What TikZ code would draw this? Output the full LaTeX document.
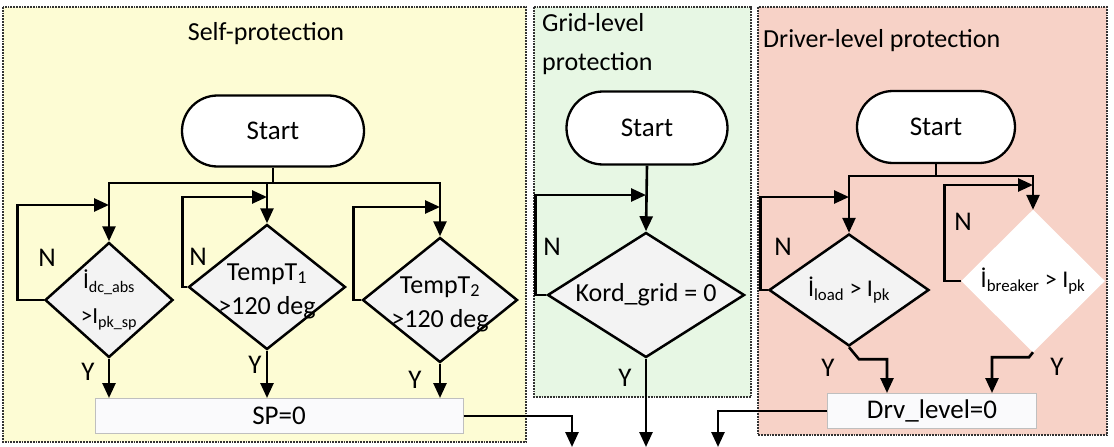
\documentclass[tikz,border=0pt]{standalone}
\usepackage{fontspec}
\setmainfont{Carlito}
\usetikzlibrary{arrows.meta,shapes.geometric,shapes.misc}

\definecolor{selfbg}{RGB}{253,252,212}
\definecolor{gridbg}{RGB}{231,247,228}
\definecolor{drvbg}{RGB}{247,210,199}
\definecolor{decfill}{RGB}{243,243,243}
\definecolor{resfill}{RGB}{250,250,252}

\begin{document}
\begin{tikzpicture}[
    x=1pt, y=-1pt,
    >={Triangle[length=15pt,width=13pt]},
    flow/.style={line width=2.6pt, draw=black},
    panel/.style={draw=black!80, line width=1.8pt, densely dotted},
    title/.style={font=\fontsize{26}{39}\selectfont, inner sep=0pt},
    startbox/.style={rounded rectangle, draw=black, line width=2.3pt, fill=white, font=\fontsize{27}{30}\selectfont, inner sep=0pt},
    decision/.style={diamond, draw=black, line width=2.5pt, fill=decfill, inner sep=0pt},
    dtext/.style={font=\fontsize{26}{34}\selectfont, align=center, inner sep=0pt},
    stext/.style={font=\fontsize{23}{35}\selectfont, align=center, inner sep=0pt},
    resultbox/.style={rectangle, draw=black!25, line width=1pt, fill=resfill, font=\fontsize{27}{30}\selectfont},
    yn/.style={font=\fontsize{27}{30}\selectfont, inner sep=0pt}
]
\useasboundingbox (0,0) rectangle (1114,447);

% panels
\draw[panel, fill=selfbg] (3,7) rectangle (526,442);
\draw[panel, fill=gridbg] (534,7) rectangle (751,397);
\draw[panel, fill=drvbg] (758,7) rectangle (1107,435);

\node[title, anchor=base] (t1) at (266,40) {Self-protection};
\node[title, anchor=north west, align=left] (t2) at (542,13) {Grid-level\\protection};
\node[title, anchor=base west] (t3) at (763,47) {Driver-level protection};

% self-protection
\node[startbox, minimum width=182pt, minimum height=71pt] (st1) at (273,131) {Start};
\node[decision, minimum width=128pt, minimum height=115pt,
    label={[stext]center:{İ\textsubscript{dc\_abs}\\>I\textsubscript{pk\_sp}}}] (d1) at (109,300) {};
\node[decision, minimum width=157pt, minimum height=125pt,
    label={[dtext, yshift=-4pt]center:{TempT\textsubscript{1}\\>120 deg}}] (d2) at (267,287) {};
\node[decision, minimum width=155pt, minimum height=125pt,
    label={[dtext, yshift=-4pt]center:{TempT\textsubscript{2}\\>120 deg}}] (d3) at (440,300) {};
\node[resultbox, minimum width=368pt, minimum height=35pt] (sp) at (279,416) {SP=0};

\coordinate (b1) at (273,183);
\draw[flow] (st1) -- (b1);
\draw[flow,->] (b1) -| (d1.north);
\draw[flow,->] (b1) -| (d2.north);
\draw[flow,->] (b1) -| (d3.north);
\draw[flow,->] (d1.west) -- ++(-26,0) |- (d1.north |- 0,205);
\draw[flow,->] (d2.west) -- ++(-5,0) |- (d2.north |- 0,197);
\draw[flow,->] (d3.west) -- ++(-8,0) |- (d3.north |- 0,207);
\draw[flow,->] (d1.south) -- (d1.south |- sp.north);
\draw[flow,->] (d2.south) -- (d2.south |- sp.north);
\draw[flow,->] (d3.south) -- (d3.south |- sp.north);

\node[yn] (n1) at (47,258) {N};
\node[yn] (n2) at (198,257) {N};
\node[yn] (y1) at (88,372) {Y};
\node[yn] (y2) at (255,365) {Y};
\node[yn] (y3) at (415,380) {Y};

% grid-level protection
\node[startbox, minimum width=161pt, minimum height=73pt] (st2) at (647,128) {Start};
\node[decision, minimum width=197pt, minimum height=125pt,
    label={[dtext]center:Kord\_grid = 0}] (dg) at (646,295) {};
\draw[flow,->] (st2.south) -- (dg.north);
\draw[flow,->] (dg.west) -- ++(-11,0) |- (dg.north |- 0,195);
\node[yn] (n3) at (552,247) {N};
\node[yn] (y4) at (625,378) {Y};

% driver-level protection
\node[startbox, minimum width=158pt, minimum height=72pt] (st3) at (936,127) {Start};
\node[decision, minimum width=160pt, minimum height=112pt,
    label={[stext, font=\fontsize{24}{30}\selectfont]center:İ\textsubscript{load} > I\textsubscript{pk}}] (dl) at (849,290) {};
\node[decision, draw=white, fill=white, minimum width=141pt, minimum height=140pt,
    label={[stext, font=\fontsize{24}{30}\selectfont]center:İ\textsubscript{breaker} > I\textsubscript{pk}}] (db) at (1033,281) {};
\node[resultbox, minimum width=209pt, minimum height=35pt] (drv) at (932,411) {Drv\_level=0};

\coordinate (b3) at (936,176);
\draw[flow] (st3) -- (b3);
\draw[flow,->] (b3) -| (dl.north);
\draw[flow,->] (b3) -| (db.north);
\draw[flow,->] (dl.west) -- ++(-7,0) |- (dl.north |- 0,197);
\draw[flow,->] (db.west) -- ++(-17,0) |- (db.north |- 0,185);
\draw[flow,->] (dl.south) -- ++(10,12) -| ([xshift=-45pt]drv.north);
\draw[flow,->] (db.south) -- ++(-4,5) -| ([xshift=60pt]drv.north);

\node[yn] (n4) at (783,247) {N};
\node[yn] (n5) at (963,222) {N};
\node[yn] (y5) at (828,368) {Y};
\node[yn] (y6) at (1057,367) {Y};

% outputs
\coordinate (o1) at (572,447);
\coordinate (o2) at (646,447);
\coordinate (o3) at (718,447);
\draw[flow,->] (sp.east) -| (o1);
\draw[flow,->] (dg.south) -- (o2);
\draw[flow,->] (drv.west) -| (o3);
\end{tikzpicture}
\end{document}
